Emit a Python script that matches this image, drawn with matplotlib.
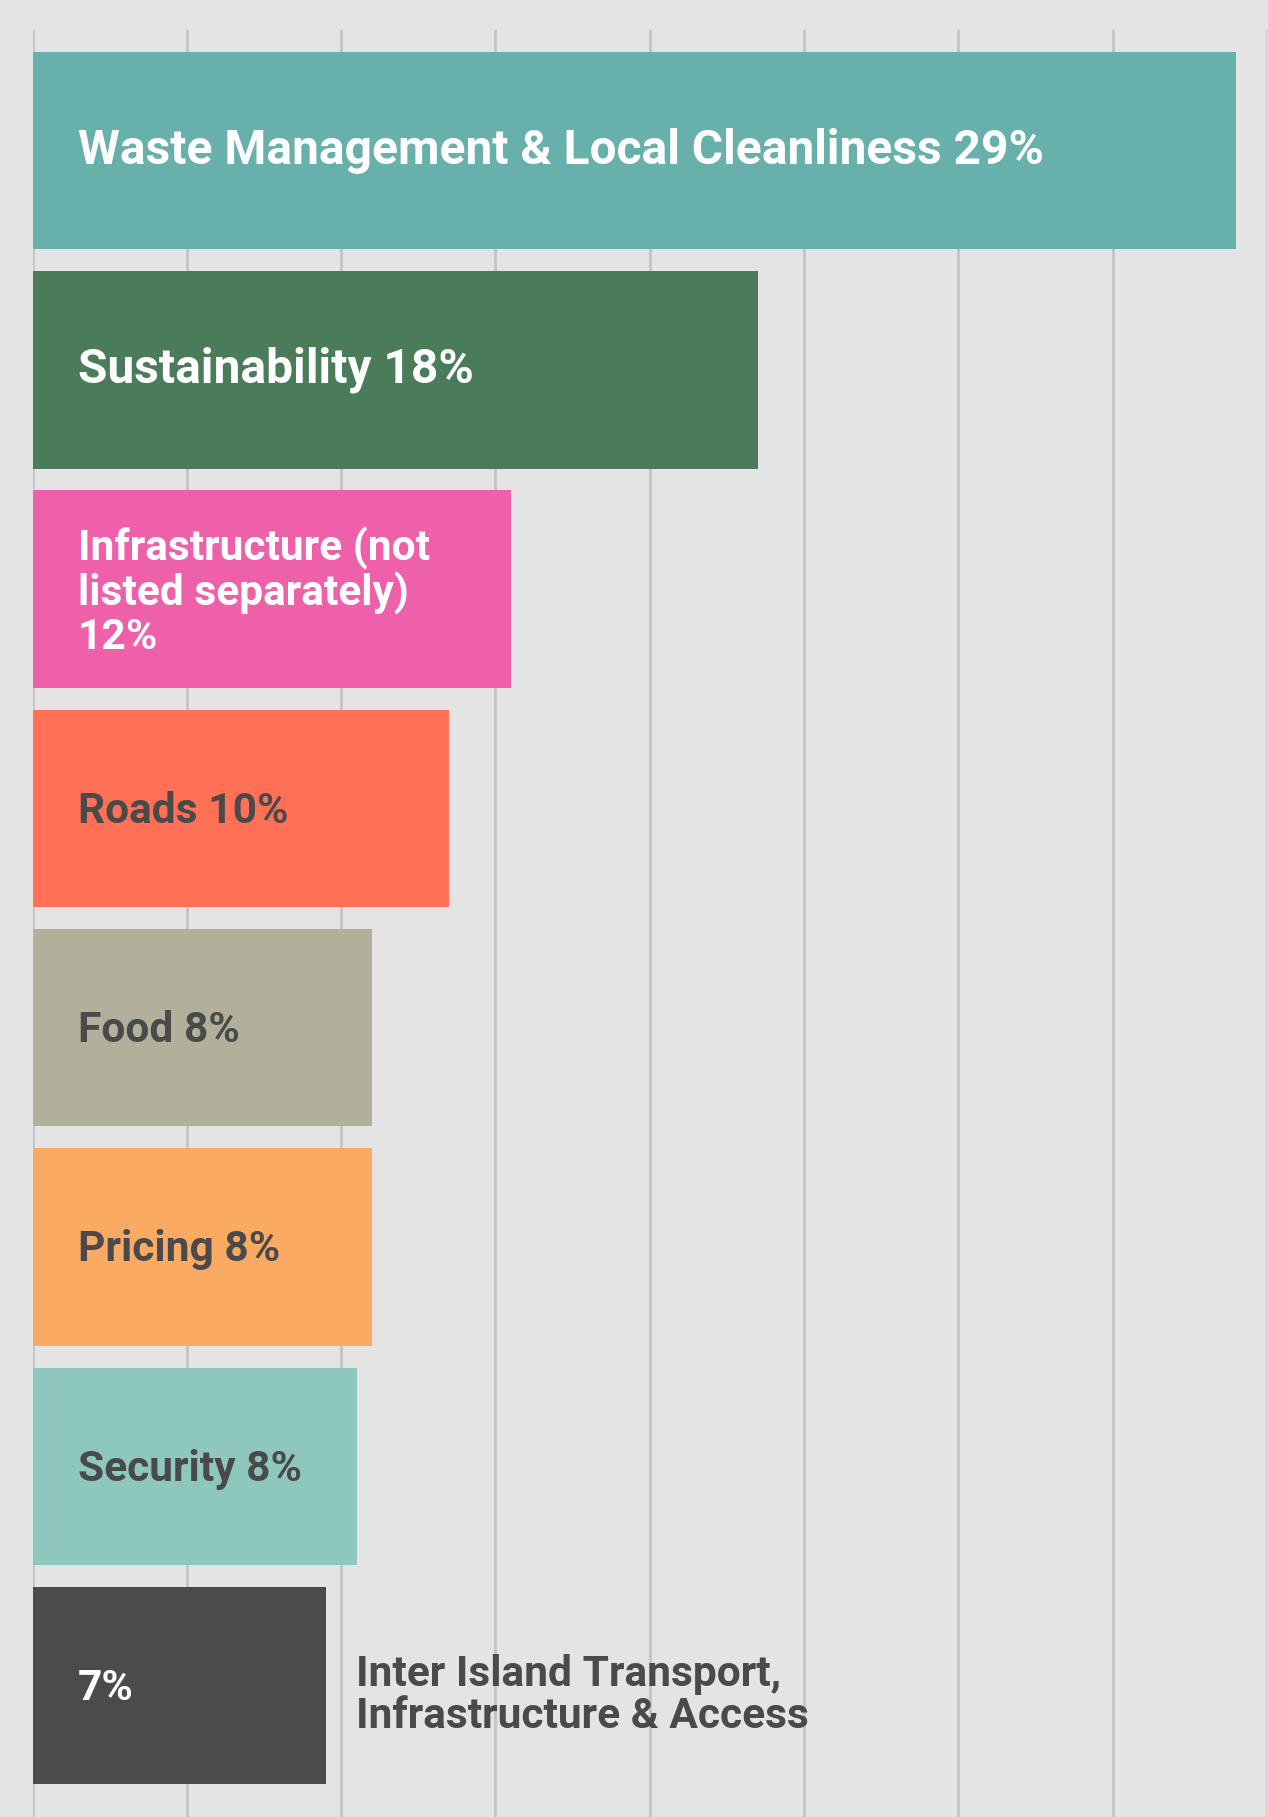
import matplotlib
matplotlib.use("Agg")
import matplotlib.pyplot as plt
import numpy as np

plt.rcParams['font.family'] = ['Roboto', 'DejaVu Sans']

labels = ["Waste Management & Local Cleanliness 29%",
          "Sustainability 18%",
          "Infrastructure (not\nlisted separately)\n12%",
          "Roads 10%",
          "Food 8%",
          "Pricing 8%",
          "Security 8%",
          "7%"]
counts = [78, 47, 31, 27, 22, 22, 21, 19]
colors = ['#67b0ab', '#4a7c59', '#ef60aa', '#ff7056',
          '#b2b09b', '#fbaa64', '#8ec7bd', '#4b4b4b']
text_colors = ['white', 'white', 'white', '#4a4a4a',
               '#4a4a4a', '#4a4a4a', '#4a4a4a', 'white']
font_sizes = [34.5, 34.5, 30.6, 30.6, 30.6, 30.6, 30.6, 30.6]
outside_label = "Inter Island Transport,\nInfrastructure & Access"

fig = plt.figure(figsize=(12.68, 18.17), dpi=100, facecolor='#e4e4e4')
ax = fig.add_axes([32.5 / 1268, 0, (1267 - 32.5) / 1268, 1 - 30 / 1817])
ax.set_facecolor('#e4e4e4')

y = np.arange(len(counts))
ax.barh(y, counts, height=0.9, color=colors, zorder=2)

ax.set_xlim(0, 80)
ax.set_ylim(7.6, -0.55)
ax.set_xticks(np.arange(0, 81, 10))
ax.set_yticks([])
ax.grid(axis='x', color='#c4c4c4', linewidth=2.0, zorder=1)
ax.tick_params(length=0, labelbottom=False)
for s in ax.spines.values():
    s.set_visible(False)

for i in range(len(counts)):
    dy = 0 if i < 2 else -3
    ax.annotate(labels[i], xy=(0, i), xytext=(45, dy), textcoords='offset pixels',
                va='center', ha='left', fontsize=font_sizes[i], fontweight='bold',
                color=text_colors[i], linespacing=1.06, zorder=3)

ax.annotate(outside_label, xy=(counts[-1], len(counts) - 1), xytext=(30, -10),
            textcoords='offset pixels', va='center', ha='left', fontsize=30.6,
            fontweight='bold', color='#4a4a4a', linespacing=1.02, zorder=3)

fig.savefig('out.png', dpi=100, facecolor=fig.get_facecolor())
